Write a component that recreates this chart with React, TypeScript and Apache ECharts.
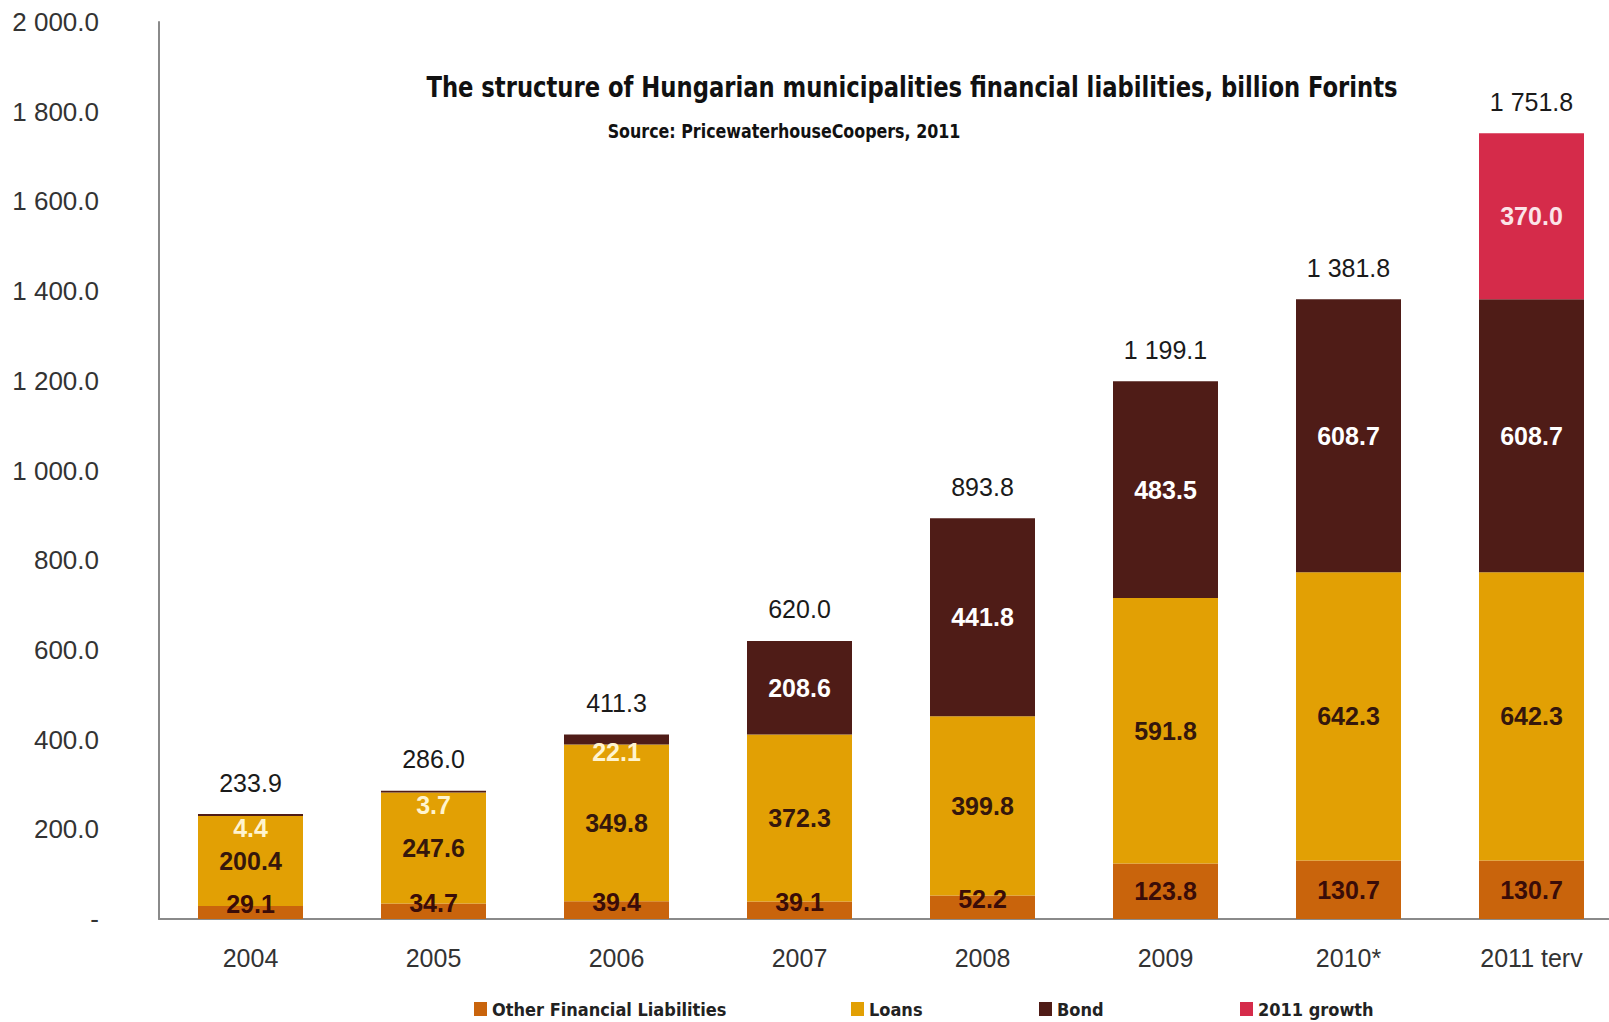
import React, { useEffect, useRef } from "react";
import * as echarts from "echarts";

// Years on the category axis
const categories = ["2004", "2005", "2006", "2007", "2008", "2009", "2010*", "2011 terv"];

// Liability components, billion HUF
const otherLiabilities = [29.1, 34.7, 39.4, 39.1, 52.2, 123.8, 130.7, 130.7];
const loans = [200.4, 247.6, 349.8, 372.3, 399.8, 591.8, 642.3, 642.3];
const bonds = [4.4, 3.7, 22.1, 208.6, 441.8, 483.5, 608.7, 608.7];
const growth2011 = [0, 0, 0, 0, 0, 0, 0, 370.0];

// Stack totals printed above each column
const totals = [233.9, 286.0, 411.3, 620.0, 893.8, 1199.1, 1381.8, 1751.8];

const seriesNames = ["Other Financial Liabilities", "Loans", "Bond", "2011 growth"];
const seriesColors = ["#C9640C", "#E2A004", "#4F1C17", "#D52B4A"];

const NUM_FONT = "'Liberation Sans', Arial, sans-serif";
const NARROW_FONT = "'DejaVu Sans Condensed', 'DejaVu Sans', sans-serif";

// "1 751.8" style: space as thousands separator, one decimal
function fmt(v: number): string {
  const [int, dec] = v.toFixed(1).split(".");
  return int.replace(/\B(?=(\d{3})+(?!\d))/g, " ") + "." + dec;
}

export default function App() {
  const ref = useRef<HTMLDivElement>(null);

  useEffect(() => {
    if (!ref.current) return;
    const chart = echarts.init(ref.current, undefined, { renderer: "svg" });

    const innerLabel = (color: string) => ({
      show: true,
      position: "inside" as const,
      fontSize: 25,
      fontWeight: "bold" as const,
      fontFamily: NUM_FONT,
      color,
      formatter: (p: any) => (p.value > 0 ? fmt(p.value) : ""),
    });

    const option: any = {
      animation: false,
      backgroundColor: "#ffffff",
      // the plot runs a little past the right edge of the visible page
      grid: { left: 159, right: 0, top: 22, bottom: 103, containLabel: false },
      xAxis: {
        type: "category",
        data: categories,
        axisLine: { show: true, lineStyle: { color: "#8a8a8a", width: 2 } },
        axisTick: { show: false },
        axisLabel: { fontSize: 25, color: "#333", fontFamily: NUM_FONT, margin: 26 },
      },
      yAxis: {
        type: "value",
        min: 0,
        max: 2000,
        interval: 200,
        axisLine: { show: true, lineStyle: { color: "#8a8a8a", width: 2 } },
        axisTick: { show: false },
        splitLine: { show: false },
        axisLabel: {
          fontSize: 26,
          color: "#333",
          fontFamily: NUM_FONT,
          margin: 60,
          formatter: (v: number) => (v === 0 ? "-" : fmt(v)),
        },
      },
      legend: seriesNames.map((name, i) => ({
        data: [name],
        left: [474, 851, 1039, 1240][i],
        top: 1000,
        icon: "rect",
        itemWidth: 13,
        itemHeight: 14,
        itemGap: 0,
        padding: 0,
        selectedMode: false,
        textStyle: { fontSize: 18, fontWeight: "bold", color: "#222", fontFamily: NARROW_FONT },
      })),
      graphic: [
        {
          type: "text",
          x: 912,
          y: 87,
          scaleX: 0.87,
          style: {
            text: "The structure of Hungarian municipalities financial liabilities, billion Forints",
            fontSize: 29,
            fontWeight: "bold",
            fontFamily: NARROW_FONT,
            fill: "#111",
            align: "center",
            verticalAlign: "middle",
          },
        },
        {
          type: "text",
          x: 784,
          y: 131,
          scaleX: 0.93,
          style: {
            text: "Source: PricewaterhouseCoopers, 2011",
            fontSize: 19,
            fontWeight: "bold",
            fontFamily: NARROW_FONT,
            fill: "#111",
            align: "center",
            verticalAlign: "middle",
          },
        },
      ],
      series: [
        {
          name: seriesNames[0],
          type: "bar",
          stack: "total",
          barWidth: 105,
          itemStyle: { color: seriesColors[0] },
          label: innerLabel("#3A0C08"),
          // short segments: lift the label so it stays above the axis
          data: otherLiabilities.map((v) => ({ value: v, label: { offset: [0, v < 60 ? -8 : 0] } })),
        },
        {
          name: seriesNames[1],
          type: "bar",
          stack: "total",
          barWidth: 105,
          itemStyle: { color: seriesColors[1] },
          label: innerLabel("#35170C"),
          data: loans,
        },
        {
          name: seriesNames[2],
          type: "bar",
          stack: "total",
          barWidth: 105,
          itemStyle: { color: seriesColors[2] },
          label: innerLabel("#FFFFFF"),
          // thin bond slices: label drops into the loans block in a pale tint
          data: bonds.map((v) =>
            v < 30
              ? { value: v, label: { offset: [0, 13], color: "#FFF4CF" } }
              : { value: v }
          ),
        },
        {
          name: seriesNames[3],
          type: "bar",
          stack: "total",
          barWidth: 105,
          itemStyle: { color: seriesColors[3] },
          label: innerLabel("#FBE4E8"),
          data: growth2011,
        },
        {
          name: "Total",
          type: "bar",
          stack: "total",
          barWidth: 105,
          silent: true,
          itemStyle: { color: "transparent" },
          label: {
            show: true,
            position: "top",
            distance: 19,
            fontSize: 25,
            color: "#1a1a1a",
            fontFamily: NUM_FONT,
            formatter: (p: any) => fmt(totals[p.dataIndex]),
          },
          data: totals.map(() => 0),
        },
      ],
    };

    chart.setOption(option);
    return () => chart.dispose();
  }, []);

  return (
    <div
      style={{
        position: "fixed",
        left: 0,
        top: 0,
        width: 1609,
        height: 1022,
        overflow: "hidden",
        background: "#fff",
      }}
    >
      <div ref={ref} style={{ width: 1623, height: 1022 }} />
    </div>
  );
}
